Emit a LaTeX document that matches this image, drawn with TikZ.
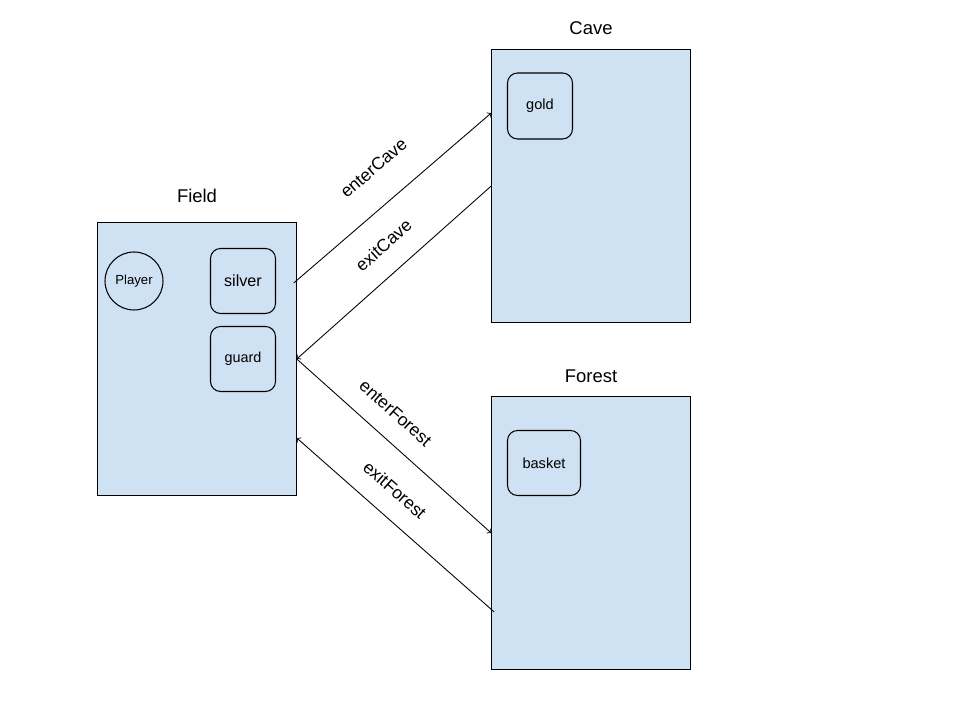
\documentclass[tikz,border=0pt]{standalone}
\usepackage{fontspec}
\setmainfont{Liberation Sans}
\usepackage{tikz}
\usetikzlibrary{arrows,positioning,calc}
\definecolor{roomblue}{HTML}{CFE2F3}
\newcommand\fs[1]{\fontsize{#1}{#1}\selectfont}

\begin{document}
\begin{tikzpicture}[x=.02cm,y=.02cm]%
        \useasboundingbox (0,0) rectangle (960,720);%%
        \begin{scope}[shape=rectangle,inner sep=0, line width=.6pt]
        \tikzstyle{every node}=[draw,fill=roomblue,minimum width=3.97cm,minimum height=5.45cm] %%
        \node (field) at (197,361)  {}; %%
        \node (cave) at (591,534)  {}; %%
        \node (forest) at (591,187)  {}; %%
        \end{scope}%
        \begin{scope}[inner sep=0]
        \tikzstyle{every node}=[font=\fs{10.5}] %%
        \node (tfield) at (197,524)  {Field}; %%
        \node (tcave) at (591,692)  {Cave}; %%
        \node (tforest) at (591,344)  {Forest}; %%
        \end{scope}
        \begin{scope}[shape=rectangle,rounded corners=.2cm,inner sep=0, line width=.6pt]
        \tikzstyle{every node}=[draw,fill=roomblue,minimum size=1.3cm] %%
        \node[circle,minimum size=1.16cm,font=\fs{7.5}] (player) at (134,439)  {Player}; %%
        \node[font=\fs{9.2}] (silver) at (243,439)  {silver}; %%
        \node[font=\fs{8.2}] (guard) at (243,361)  {guard}; %%
        \node[font=\fs{8.3},minimum height=1.32cm] (gold) at (540,614)  {gold}; %%
        \node[font=\fs{8.3},minimum width=1.46cm] (basket) at (544,257)  {basket}; %%
        \end{scope}
        \tikzset{every node/.style={sloped,inner sep=0,font=\fs{10}}} %%
        \draw[->,-to,line width=.5pt] ($(field.east)+(-3,76)$)--($(cave.west)+(0,73)$) node[pos=.52,above=.57cm] (lenter) {enterCave}; %%
        \draw[->,-to,line width=.5pt] (cave.west)--(field.east) node[pos=.46,above=.41cm] (lexit) {exitCave}; %%
        \draw[->,-to,line width=.5pt] (field.east)--(forest.west) node[pos=.42,above=.38cm] (lenterf) {enterForest}; %%
        \draw[->,-to,line width=.5pt] ($(forest.west)+(3,-79)$)--($(field.east)+(0,-79)$) node[pos=.59,above=.38cm] (lexitf) {exitForest}; %%
        \end{tikzpicture}
\end{document}
